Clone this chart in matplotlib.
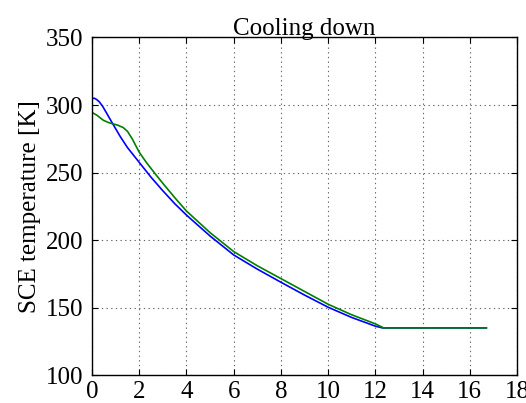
import numpy as np
import matplotlib
matplotlib.use("Agg")
import matplotlib.pyplot as plt

# values
t_blue = [0, 0.1, 0.2, 0.3, 0.45, 0.6, 0.87, 1.2, 1.5, 2.0, 2.5, 3.0, 3.5, 4, 5, 6, 7, 8,
          9, 10, 11, 12, 12.3, 13, 14, 15, 16, 16.7]
T_blue = [305, 305, 304, 302.5, 299, 294.5, 286.3, 276.5, 268.5, 257.5, 246.5, 236.5, 227,
          218.5, 203, 189, 178.5, 168.8, 159.3, 150.3, 142.7, 136.3, 135, 135, 135, 135, 135, 135]

t_green = [0, 0.2, 0.48, 0.7, 0.9, 1.1, 1.32, 1.5, 1.7, 2.0, 2.3, 2.7, 3.0, 3.5, 4, 5, 6,
           7, 8, 9, 10, 11, 12, 12.35, 13, 14, 15, 16, 16.7]
T_green = [294.5, 292.5, 288.7, 287, 286, 285, 283.3, 280.5, 275, 265, 257.5, 248.5, 242, 231.5,
           221.5, 205.5, 191.5, 181, 171.5, 162, 152.5, 144.7, 138, 135, 135, 135, 135, 135, 135]

plt.rcParams["font.family"] = ["Liberation Serif", "DejaVu Serif"]
plt.rcParams["font.size"] = 18

fig = plt.figure(figsize=(5.26, 4.03), dpi=100)
ax = fig.add_axes([0.175, 0.069, 0.808, 0.838])

ax.plot(t_blue, T_blue, color="b", lw=1.2)
ax.plot(t_green, T_green, color="g", lw=1.2)

ax.set_xlim(0, 18)
ax.set_ylim(100, 350)
ax.set_xticks(np.arange(0, 19, 2))
ax.set_yticks(np.arange(100, 351, 50))
ax.grid(True, linestyle=(0, (1.2, 3)), color="0.4", lw=0.8)
ax.tick_params(direction="in", top=True, right=True, length=4, labelsize=18)
ax.tick_params(axis="y", pad=6)
ax.tick_params(axis="x", pad=4)
for s in ax.spines.values():
    s.set_linewidth(1.0)

ax.set_ylabel("SCE temperature [K]", fontsize=18)
ax.set_title("Cooling down", fontsize=18, pad=2)

fig.savefig("out.png", dpi=100)
